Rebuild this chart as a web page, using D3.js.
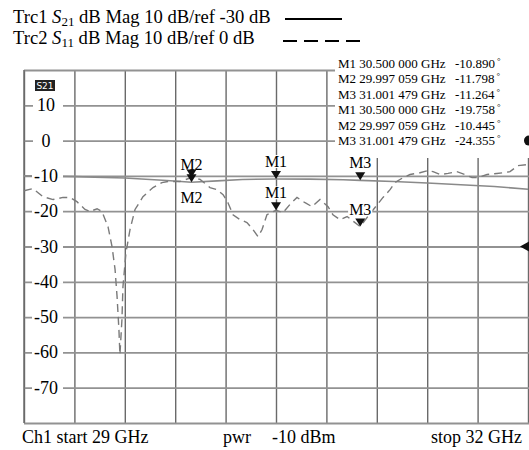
<!DOCTYPE html>
<html><head><meta charset="utf-8">
<script src="https://cdn.jsdelivr.net/npm/d3@7"></script>
<style>body{margin:0;background:#fff}svg{display:block;font-family:"Liberation Serif","Times New Roman",serif}</style>
</head><body><svg id="c" width="529" height="450"></svg>
<script>
const yTicks = [10, 0, -10, -20, -30, -40, -50, -60, -70];
const s11Freq = [29.0,29.054,29.113,29.173,29.232,29.274,29.315,29.363,29.393,29.435,29.464,29.500,29.524,29.542,29.554,29.565,29.571,29.583,29.589,29.607,29.631,29.661,29.708,29.768,29.821,29.857,29.929,29.997,30.048,30.107,30.149,30.185,30.214,30.244,30.286,30.327,30.363,30.393,30.417,30.446,30.5,30.524,30.542,30.583,30.625,30.673,30.714,30.762,30.810,30.839,30.881,30.923,31.001,31.060,31.137,31.179,31.208,31.256,31.298,31.357,31.405,31.435,31.476,31.524,31.577,31.625,31.667,31.702,31.756,31.815,31.851,31.893,31.940,32.0];
const s11Val = [-14.2,-13.6,-15.9,-16.7,-16.1,-16.1,-17.3,-19.5,-20.1,-19.3,-20.1,-24.4,-30.0,-36.5,-44.2,-53.5,-60.6,-50.7,-41.4,-31.7,-25.2,-19.5,-15.9,-13.3,-11.9,-11.6,-11.6,-10.445,-11.0,-13.3,-13.9,-15.3,-17.6,-21.0,-22.4,-23.2,-25.2,-27.2,-25.2,-21.0,-19.758,-20.1,-20.4,-18.1,-16.1,-17.6,-18.7,-16.7,-18.7,-21.0,-22.4,-21.5,-24.355,-20.7,-16.1,-13.9,-11.9,-10.5,-9.6,-9.1,-8.5,-8.8,-9.6,-9.3,-8.8,-9.6,-10.5,-10.5,-9.6,-9.3,-9.1,-8.8,-7.1,-6.8];
const s21Freq = [29.0,29.3,29.6,29.85,29.997,30.15,30.3,30.5,30.7,30.9,31.001,31.2,31.4,31.6,31.8,32.0];
const s21Val = [-10.0,-10.2,-10.6,-11.3,-11.798,-11.4,-11.0,-10.89,-10.9,-11.1,-11.264,-11.6,-12.0,-12.5,-13.0,-13.8];
const markerNames = ["M1","M2","M3"];
const markerFreq = [30.5, 29.997059, 31.001479];
const markerFreqText = ["30.500 000","29.997 059","31.001 479"];
const s21Marker = [-10.890, -11.798, -11.264];
const s11Marker = [-19.758, -10.445, -24.355];

const svg = d3.select("#c");
const L = 24, R = 528, T = 70, B = 423;
const x = d3.scaleLinear([29, 32], [L, R]);
const y = d3.scaleLinear([-80, 20], [B, T]);

// grid
const gx = svg.append("g").attr("transform", `translate(0,${B})`)
  .call(d3.axisBottom(x).tickValues(d3.range(11).map(i => 29 + i * 0.3)).tickSize(-(B - T)).tickFormat(""));
gx.select(".domain").remove();
gx.selectAll("line").attr("stroke", "#6a6a6a").attr("stroke-width", 1.4);
const gy = svg.append("g").attr("transform", `translate(${L},0)`)
  .call(d3.axisLeft(y).tickValues(d3.range(-80, 21, 10)).tickSize(-(R - L + 2)).tickFormat(""));
gy.select(".domain").remove();
gy.selectAll("line").attr("stroke", "#929292").attr("stroke-width", 1.8);
svg.append("line").attr("x1", L).attr("x2", L).attr("y1", T).attr("y2", B).attr("stroke", "#6a6a6a").attr("stroke-width", 1.4);

// traces
const line = d3.line().x(d => x(d[0])).y(d => y(d[1]));
svg.append("path").datum(s21Freq.map((f, i) => [f, s21Val[i]])).attr("d", line)
  .attr("fill", "none").attr("stroke", "#8a8a8a").attr("stroke-width", 1.6);
svg.append("path").datum(s11Freq.map((f, i) => [f, s11Val[i]])).attr("d", line)
  .attr("fill", "none").attr("stroke", "#7a7a7a").attr("stroke-width", 1.4).attr("stroke-dasharray", "8,5");

// marker table background
svg.append("rect").attr("x", 335).attr("y", 54).attr("width", 194).attr("height", 104).attr("fill", "#fff");
const rows = [];
markerNames.forEach((m, i) => rows.push([m, markerFreqText[i], s21Marker[i]]));
markerNames.forEach((m, i) => rows.push([m, markerFreqText[i], s11Marker[i]]));
rows.forEach((r, i) => {
  const by = 67.5 + i * 15.5;
  svg.append("text").attr("x", 338).attr("y", by).attr("font-size", 13).text(`${r[0]} ${r[1]} GHz`);
  const t = svg.append("text").attr("x", 455).attr("y", by).attr("font-size", 13);
  t.append("tspan").text(r[2].toFixed(3));
  t.append("tspan").attr("dx", 2).attr("dy", -4).attr("font-size", 9).text("°");
});

// y tick labels
yTicks.forEach(v => {
  const t = svg.append("text").attr("x", 46).attr("y", y(v) + 6).attr("text-anchor", "middle")
    .attr("font-size", 18).text(v);
  const bb = t.node().getBBox();
  const x0 = Math.min(33, bb.x - 2), x1 = Math.max(63, bb.x + bb.width + 4);
  svg.insert("rect", () => t.node()).attr("x", x0).attr("y", y(v) - 2).attr("width", x1 - x0).attr("height", 4).attr("fill", "#fff");
});

// S21 tag
svg.append("rect").attr("x", 35).attr("y", 80).attr("width", 20).attr("height", 11).attr("fill", "#222");
svg.append("text").attr("x", 45).attr("y", 89).attr("text-anchor", "middle").attr("font-family", "DejaVu Sans, sans-serif")
  .attr("font-size", 9).attr("fill", "#fff").text("S21");

// markers
function tri(cx, tip) {
  svg.append("path").attr("d", `M${cx - 5},${tip - 8}L${cx + 5},${tip - 8}L${cx},${tip}Z`).attr("fill", "#111");
}
function mlabel(cx, by, s) {
  const t = svg.append("text").attr("x", cx).attr("y", by).attr("text-anchor", "middle").attr("font-size", 16).text(s);
  const bb = t.node().getBBox();
  svg.insert("rect", () => t.node()).attr("x", bb.x - 1).attr("y", bb.y + 2).attr("width", bb.width + 2).attr("height", bb.height - 4).attr("fill", "#fff");
}
markerNames.forEach((m, i) => {
  const cx = x(markerFreq[i]);
  const t1 = y(s21Marker[i]), t2 = y(s11Marker[i]);
  tri(cx, t1);
  mlabel(cx, t1 - 12, m);
  tri(cx, t2);
  if (m === "M2") mlabel(cx, t2 + 26, m); else mlabel(cx, t2 - 12, m);
});

// reference indicators at right edge
svg.append("circle").attr("cx", 529).attr("cy", y(0)).attr("r", 5).attr("fill", "#111");
svg.append("path").attr("d", `M${520},${y(-30)}L529,${y(-30) - 5}L529,${y(-30) + 5}Z`).attr("fill", "#111");

// header
function header(yb, trc, sub, rest) {
  const t = svg.append("text").attr("x", 13).attr("y", yb).attr("font-size", 18.6);
  t.append("tspan").text(trc + " ");
  t.append("tspan").attr("font-style", "italic").text("S");
  t.append("tspan").attr("font-size", 13).attr("dy", 3).text(sub);
  t.append("tspan").attr("dy", -3).text(" " + rest);
}
header(23, "Trc1", "21", "dB Mag 10 dB/ref -30 dB");
header(44, "Trc2", "11", "dB Mag 10 dB/ref 0 dB");
svg.append("line").attr("x1", 285).attr("x2", 342).attr("y1", 19).attr("y2", 19).attr("stroke", "#000").attr("stroke-width", 2);
svg.append("line").attr("x1", 283).attr("x2", 362).attr("y1", 41).attr("y2", 41).attr("stroke", "#000").attr("stroke-width", 2).attr("stroke-dasharray", "14,7");

// footer
svg.append("text").attr("x", 22).attr("y", 443).attr("font-size", 18).text("Ch1 start 29 GHz");
svg.append("text").attr("x", 223).attr("y", 443).attr("font-size", 18).text("pwr");
svg.append("text").attr("x", 272).attr("y", 443).attr("font-size", 18).text("-10 dBm");
svg.append("text").attr("x", 522).attr("y", 443).attr("text-anchor", "end").attr("font-size", 18).text("stop 32 GHz");
</script></body></html>
